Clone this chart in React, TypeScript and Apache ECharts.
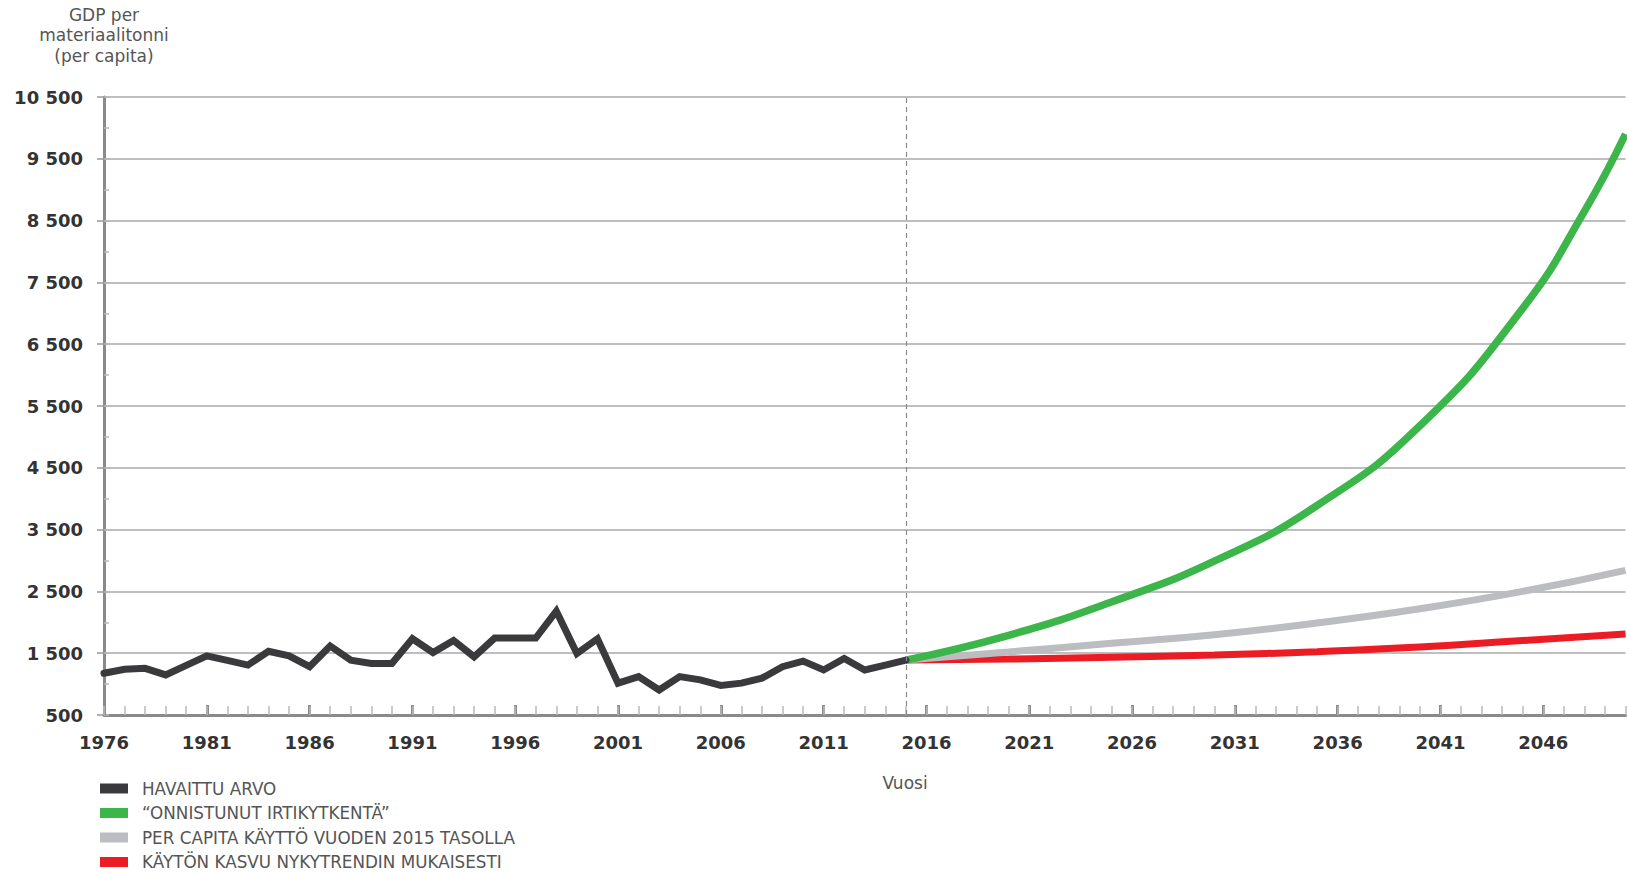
import React, { useEffect, useRef } from "react";
import * as echarts from "echarts";

// Categories: years 1976–2050
const years: string[] = Array.from({ length: 75 }, (_, i) => String(1976 + i));

// Observed values 1976–2015
const observed = [
  1175, 1239, 1255, 1149, 1303, 1457, 1383, 1308, 1532, 1457,
  1282, 1617, 1388, 1335, 1335, 1734, 1511, 1707, 1441, 1745,
  1745, 1745, 2180, 1495, 1734, 1016, 1122, 905, 1122, 1069,
  979, 1016, 1096, 1282, 1372, 1229, 1415, 1229, 1308, 1388,
];

// "Onnistunut irtikytkentä" scenario
const greenYears = ["2015", "2020", "2025", "2030", "2035", "2040", "2045", "2048", "2050"];
const greenValues = [1388, 1790, 2330, 2990, 3890, 5180, 7080, 8650, 9900];

// Per capita use at 2015 level
const grayYears = ["2015", "2020", "2025", "2030", "2035", "2040", "2045", "2050"];
const grayValues = [1388, 1520, 1660, 1800, 1990, 2220, 2500, 2840];

// Use growing according to current trend
const redYears = ["2015", "2020", "2025", "2030", "2035", "2040", "2045", "2050"];
const redValues = [1388, 1405, 1435, 1470, 1525, 1600, 1705, 1810];

const seriesNames = [
  "HAVAITTU ARVO",
  "\u201cONNISTUNUT IRTIKYTKENT\u00c4\u201d",
  "PER CAPITA K\u00c4YTT\u00d6 VUODEN 2015 TASOLLA",
  "K\u00c4YT\u00d6N KASVU NYKYTRENDIN MUKAISESTI",
];
const colors = ["#3a3a3c", "#3cb54a", "#bcbdc0", "#ec1c24"];

const yTitleLines = ["GDP per", "materiaalitonni", "(per capita)"];
const xTitle = "Vuosi";

const pairs = (xs: string[], vs: number[]) => xs.map((x, i) => [x, vs[i]]);

const fmtY = (v: number) =>
  v >= 1000 ? `${Math.floor(v / 1000)} ${String(v % 1000).padStart(3, "0")}` : String(v);

export default function App() {
  const ref = useRef<HTMLDivElement>(null);
  useEffect(() => {
    if (!ref.current) return;
    const chart = echarts.init(ref.current, undefined, { renderer: "svg" });
    const numFont = { color: "#333", fontFamily: "DejaVu Sans", fontWeight: "bold", fontSize: 18 };
    const textFont = { fontFamily: "DejaVu Sans", fontSize: 17, fill: "#555" };
    const projection = (idx: number, xs: string[], vs: number[], width: number) => ({
      name: seriesNames[idx],
      type: "line",
      data: pairs(xs, vs),
      smooth: true,
      showSymbol: false,
      color: colors[idx],
      itemStyle: { color: colors[idx] },
      lineStyle: { color: colors[idx], width },
    });
    const legendItems = seriesNames.map((name, i) => {
      const cy = 788.5 + i * 24.5;
      return {
        type: "group",
        children: [
          { type: "rect", shape: { x: 100, y: cy - 5, width: 28, height: 10 }, style: { fill: colors[i] } },
          {
            type: "text",
            x: 142,
            y: cy,
            style: { text: name, textVerticalAlign: "middle", ...textFont, fontSize: 16.8 },
          },
        ],
      };
    });
    chart.setOption({
      animation: false,
      backgroundColor: "#ffffff",
      grid: { left: 104, right: 1.5, top: 97, bottom: 158, containLabel: false },
      xAxis: [
        {
          type: "category",
          data: years,
          boundaryGap: false,
          axisLine: { lineStyle: { color: "#8a8a8a", width: 3 } },
          axisTick: { interval: 4, inside: true, length: 10, lineStyle: { color: "#8a8a8a", width: 3 } },
          axisLabel: { interval: 4, margin: 18, ...numFont },
          splitLine: { show: false },
        },
        {
          type: "category",
          data: years,
          boundaryGap: false,
          position: "bottom",
          axisLine: { show: false },
          axisTick: { interval: 0, inside: true, length: 9, lineStyle: { color: "#b8b8b8", width: 1.5 } },
          axisLabel: { show: false },
          splitLine: { show: false },
        },
      ],
      yAxis: [
        {
          type: "value",
          min: 500,
          max: 10500,
          interval: 1000,
          axisLine: { show: true, lineStyle: { color: "#8a8a8a", width: 3 } },
          axisTick: { show: true, length: 7, lineStyle: { color: "#9a9a9a", width: 1.5 } },
          axisLabel: { margin: 21, formatter: fmtY, ...numFont },
          splitLine: { lineStyle: { color: "#a8a8a8", width: 1.5 } },
        },
        {
          type: "value",
          min: 500,
          max: 10500,
          interval: 500,
          position: "left",
          offset: 0,
          axisLine: { show: false },
          axisTick: { show: true, inside: true, length: 5, lineStyle: { color: "#b8b8b8", width: 1.5 } },
          axisLabel: { show: false },
          splitLine: { show: false },
        },
      ],
      graphic: [
        ...yTitleLines.map((t, i) => ({
          type: "text",
          x: 104,
          y: 14.6 + i * 20.7,
          style: { text: t, textAlign: "center", textVerticalAlign: "middle", ...textFont },
        })),
        {
          type: "text",
          x: 905,
          y: 783,
          style: { text: xTitle, textAlign: "center", textVerticalAlign: "middle", ...textFont },
        },
        ...legendItems,
      ],
      series: [
        projection(3, redYears, redValues, 7),
        projection(2, grayYears, grayValues, 7),
        projection(1, greenYears, greenValues, 7.5),
        {
          name: seriesNames[0],
          type: "line",
          data: observed,
          showSymbol: false,
          color: colors[0],
          itemStyle: { color: colors[0] },
          lineStyle: { color: colors[0], width: 7, join: "miter", cap: "round" },
          markLine: {
            silent: true,
            symbol: ["none", "none"],
            label: { show: false },
            lineStyle: { color: "#8a8a8a", type: [5, 4], width: 1.2 },
            data: [{ xAxis: "2015" }],
          },
        },
      ],
    });
    return () => chart.dispose();
  }, []);
  return (
    <div
      ref={ref}
      style={{ position: "absolute", left: 0, top: 0, width: 1627, height: 873 }}
    />
  );
}
